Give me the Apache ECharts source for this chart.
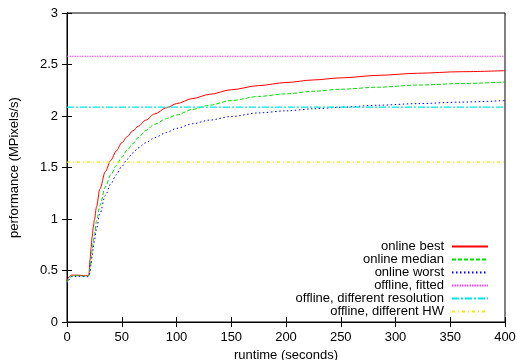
<!DOCTYPE html>
<html>
<head>
<meta charset="utf-8">
<script src="https://cdn.jsdelivr.net/npm/echarts@6/dist/echarts.min.js"></script>
<style>
html,body{margin:0;padding:0;background:#fff;}
#chart{width:517px;height:360px;}
</style>
</head>
<body>
<div id="chart"></div>
<script>
var runtime = [0,2,4,10,15,19,20,21,22,23,24,25,27,30,35,40,45,50,55,60,65,72,80,91,100,115,130,150,175,200,225,250,285,320,360,400];
var onlineBest = [0.40,0.44,0.455,0.455,0.45,0.45,0.46,0.60,0.72,0.83,0.92,0.99,1.12,1.29,1.46,1.57,1.66,1.74,1.80,1.855,1.90,1.96,2.02,2.08,2.12,2.17,2.21,2.255,2.295,2.325,2.35,2.37,2.395,2.415,2.43,2.44];
var onlineMedian = [0.38,0.42,0.445,0.45,0.445,0.445,0.45,0.52,0.62,0.70,0.78,0.85,0.98,1.13,1.31,1.43,1.52,1.60,1.67,1.73,1.79,1.86,1.92,1.975,2.01,2.065,2.105,2.15,2.19,2.215,2.24,2.26,2.28,2.30,2.315,2.33];
var onlineWorst = [0.37,0.41,0.44,0.445,0.44,0.44,0.445,0.48,0.56,0.64,0.72,0.79,0.91,1.05,1.23,1.34,1.43,1.51,1.58,1.64,1.69,1.74,1.79,1.84,1.88,1.925,1.96,1.995,2.03,2.05,2.07,2.085,2.105,2.12,2.135,2.15];
var lineRange = [0, 400];
var offlineFitted = 2.58;
var offlineResolution = 2.087;
var offlineHW = 1.553;
var seriesNames = ["online best","online median","online worst","offline, fitted","offline, different resolution","offline, different HW"];

function pairs(xs, ys){ return xs.map(function(x,i){ return [x, ys[i]]; }); }
function flat(v){ return lineRange.map(function(x){ return [x, v]; }); }

var font = "Liberation Sans, Arial, Helvetica, sans-serif";
var chart = echarts.init(document.getElementById('chart'), null, {renderer:'canvas'});

function mk(name, data, color, type, width, smooth){
  return {
    name: name, type: 'line', data: data, symbol: 'none', showSymbol: false,
    smooth: smooth ? 0.3 : false, smoothMonotone: 'x',
    lineStyle: {color: color, width: width || 1, type: type},
    itemStyle: {color: color, opacity: 0},
    animation: false, z: 3
  };
}

var option = {
  animation: false,
  backgroundColor: '#ffffff',
  textStyle: {fontFamily: font},
  grid: {left: 67, right: 12, top: 13, bottom: 38, show: true, borderColor: '#000', borderWidth: 1,
         containLabel: false, outerBoundsMode: 'none'},
  legend: {
    orient: 'vertical', right: 28, top: 240, align: 'right', padding: 0,
    itemWidth: 36, itemHeight: 13, itemGap: 0,
    itemStyle: {opacity: 0},
    textStyle: {fontSize: 13, color: '#000', fontFamily: font, lineHeight: 13, padding: [0,3,0,0]},
    data: seriesNames
  },
  xAxis: [{
    type: 'value', min: 0, max: 400, interval: 50,
    name: 'runtime (seconds)', nameLocation: 'middle', nameGap: 23,
    nameTextStyle: {fontSize: 13, color: '#000', fontFamily: font},
    axisLine: {show: true, onZero: false, lineStyle: {color: '#000'}},
    axisTick: {show: true, inside: true, length: 5, lineStyle: {color: '#000'}},
    axisLabel: {fontSize: 13, color: '#000', margin: 9, fontFamily: font},
    splitLine: {show: false}
  },{
    type: 'value', min: 0, max: 400, interval: 50, position: 'top',
    axisLine: {show: true, lineStyle: {color: '#000'}},
    axisTick: {show: true, inside: true, length: 5, lineStyle: {color: '#000'}},
    axisLabel: {show: false}, splitLine: {show: false}
  }],
  yAxis: [{
    type: 'value', min: 0, max: 3, interval: 0.5,
    name: 'performance (MPixels/s)', nameLocation: 'middle', nameGap: 46, nameRotate: 90,
    nameTextStyle: {fontSize: 13, color: '#000', fontFamily: font},
    axisLine: {show: true, onZero: false, lineStyle: {color: '#000'}},
    axisTick: {show: true, inside: true, length: 5, lineStyle: {color: '#000'}},
    axisLabel: {fontSize: 13, color: '#000', margin: 9, fontFamily: font},
    splitLine: {show: false}
  },{
    type: 'value', min: 0, max: 3, interval: 0.5, position: 'right',
    axisLine: {show: true, lineStyle: {color: '#000'}},
    axisTick: {show: true, inside: true, length: 5, lineStyle: {color: '#000'}},
    axisLabel: {show: false}, splitLine: {show: false}
  }],
  series: [
    mk(seriesNames[0], pairs(runtime, onlineBest), '#ff0000', 'solid', 1, true),
    mk(seriesNames[1], pairs(runtime, onlineMedian), '#00e000', [4,2], 1, true),
    mk(seriesNames[2], pairs(runtime, onlineWorst), '#0000ff', [1.5,2.5], 1, true),
    mk(seriesNames[3], flat(offlineFitted), '#ff40ff', [1.5,1], 1.2),
    mk(seriesNames[4], flat(offlineResolution), '#00e5e5', [7,2,2,2], 1.2),
    mk(seriesNames[5], flat(offlineHW), '#eeee00', [3,3,1,3], 1.2)
  ]
};
chart.setOption(option);
</script>
</body>
</html>
